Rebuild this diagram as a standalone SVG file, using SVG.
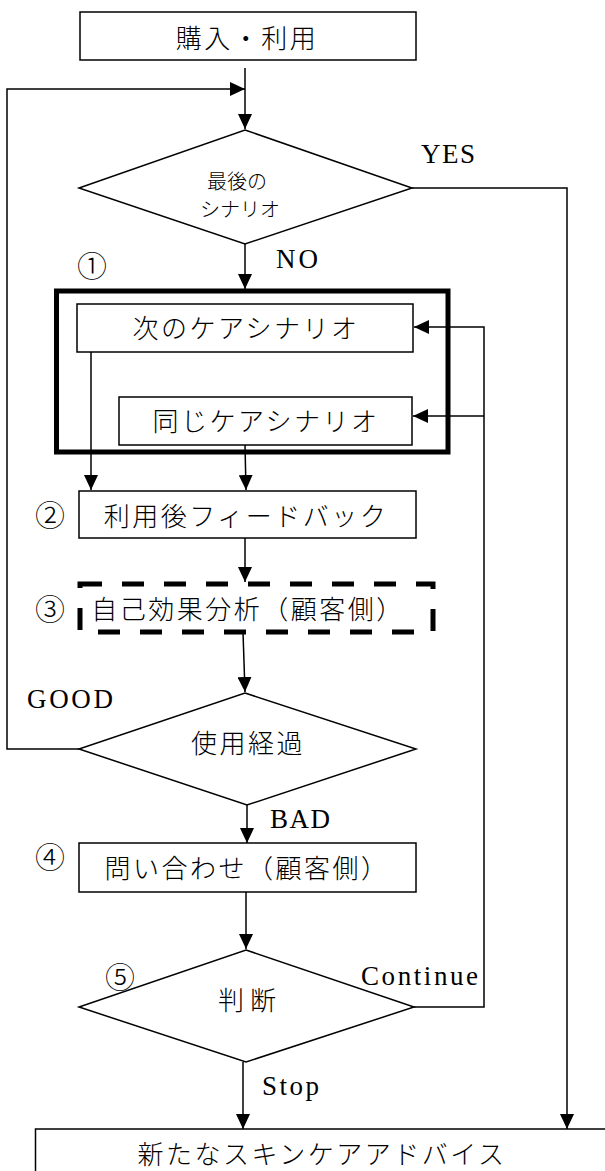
<svg xmlns="http://www.w3.org/2000/svg" width="605" height="1171" viewBox="0 0 605 1171">
<defs>
<style>
.box{fill:#fff;stroke:#000;stroke-width:1.5}
.dia{fill:#fff;stroke:#000;stroke-width:1.5}
.ln{fill:none;stroke:#000;stroke-width:1.5}
.jp{font-family:"Noto Sans CJK JP",sans-serif;font-weight:300;font-size:26px;letter-spacing:2.5px;text-anchor:middle;dominant-baseline:central;fill:#000}
.jps{font-family:"Noto Sans CJK JP",sans-serif;font-weight:300;font-size:20px;dominant-baseline:central;fill:#000}
.en{font-family:"Liberation Serif",serif;font-size:27px;fill:#000}
.num{font-family:"Noto Sans CJK JP",sans-serif;font-weight:300;font-size:30px;text-anchor:middle;dominant-baseline:central;fill:#000}
</style>
<marker id="ah" markerUnits="userSpaceOnUse" markerWidth="16" markerHeight="14" refX="15" refY="7" orient="auto">
<path d="M0,0 L15,7 L0,14 Z" fill="#000"/>
</marker>
</defs>
<rect width="605" height="1171" fill="#fff"/>

<g id="connectors">
<line class="ln" x1="245" y1="68" x2="245" y2="129" marker-end="url(#ah)"/>
<polyline class="ln" points="79,749 7,749 7,89 245,89" marker-end="url(#ah)"/>
<polyline class="ln" points="412,188 567,188 567,1129" marker-end="url(#ah)"/>
<line class="ln" x1="245" y1="244" x2="245" y2="289" marker-end="url(#ah)"/>
<line class="ln" x1="91" y1="350" x2="91" y2="490" marker-end="url(#ah)"/>
<line class="ln" x1="245" y1="445" x2="246" y2="490" marker-end="url(#ah)"/>
<line class="ln" x1="245" y1="538" x2="245" y2="582" marker-end="url(#ah)"/>
<line class="ln" x1="243" y1="632" x2="245" y2="692" marker-end="url(#ah)"/>
<line class="ln" x1="247" y1="805" x2="247" y2="843" marker-end="url(#ah)"/>
<line class="ln" x1="246" y1="892" x2="246" y2="949" marker-end="url(#ah)"/>
<polyline class="ln" points="414,1007 484,1007 484,327 414,327" marker-end="url(#ah)"/>
<line class="ln" x1="484" y1="416" x2="413" y2="416" marker-end="url(#ah)"/>
<line class="ln" x1="243" y1="1062" x2="243" y2="1129" marker-end="url(#ah)"/>
</g>

<g id="n-purchase">
<rect class="box" x="80" y="12" width="336" height="48"/>
<text class="jp" x="247" y="36">購入・利用</text>
</g>

<g id="n-last">
<polygon class="dia" points="245,130 412,188 245,244 79,188"/>
<text class="jps" x="207" y="180">最後の</text>
<text class="jps" x="200" y="208">シナリオ</text>
</g>

<g id="n-group1">
<rect x="56.5" y="291" width="391.5" height="161" fill="none" stroke="#000" stroke-width="5"/>
<text class="num" x="92" y="264">①</text>
</g>

<g id="n-next">
<rect class="box" x="77" y="304" width="336" height="48"/>
<text class="jp" x="246" y="326">次のケアシナリオ</text>
</g>

<g id="n-same">
<rect class="box" x="119" y="397" width="293" height="48"/>
<text class="jp" x="266" y="419">同じケアシナリオ</text>
</g>

<g id="n-feedback">
<rect class="box" x="79" y="491" width="337" height="47"/>
<text class="jp" x="246" y="514">利用後フィードバック</text>
<text class="num" x="50" y="513">②</text>
</g>

<g id="n-self">
<rect x="80" y="584" width="353" height="48" fill="none" stroke="#000" stroke-width="5" stroke-dasharray="22 20"/>
<text class="jp" x="248" y="607">自己効果分析（顧客側）</text>
<text class="num" x="50" y="607">③</text>
</g>

<g id="n-progress">
<polygon class="dia" points="245,693 416,749 247,805 79,749"/>
<text class="jp" x="248" y="741">使用経過</text>
</g>

<g id="n-inquiry">
<rect class="box" x="79" y="843" width="337" height="49"/>
<text class="jp" x="247" y="866">問い合わせ（顧客側）</text>
<text class="num" x="50" y="855">④</text>
</g>

<g id="n-judge">
<polygon class="dia" points="246,950 414,1007 246,1062 79,1007"/>
<text class="jp" x="250" y="998" style="letter-spacing:6px">判断</text>
<text class="num" x="120" y="975">⑤</text>
</g>

<g id="n-advice">
<rect class="box" x="35.5" y="1129" width="600" height="60"/>
<text class="jp" x="322" y="1152">新たなスキンケアアドバイス</text>
</g>

<g id="labels">
<text class="en" x="421" y="163" textLength="54" lengthAdjust="spacing">YES</text>
<text class="en" x="276" y="268" textLength="42" lengthAdjust="spacing">NO</text>
<text class="en" x="27" y="708" textLength="86" lengthAdjust="spacing">GOOD</text>
<text class="en" x="270" y="828" textLength="60" lengthAdjust="spacing">BAD</text>
<text class="en" x="361" y="985" textLength="117" lengthAdjust="spacing">Continue</text>
<text class="en" x="262" y="1095" textLength="57" lengthAdjust="spacing">Stop</text>
</g>
</svg>
